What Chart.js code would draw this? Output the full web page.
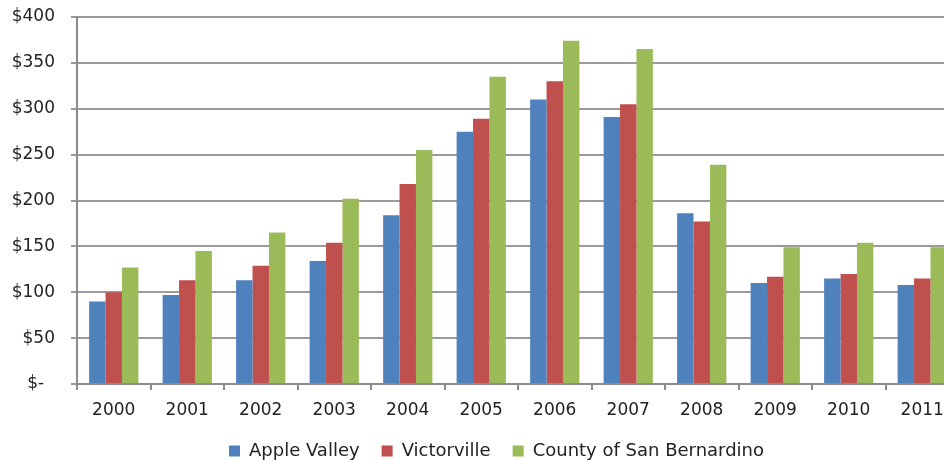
<!DOCTYPE html>
<html>
<head>
<meta charset="utf-8">
<script src="https://cdn.jsdelivr.net/npm/chart.js@4.4.1/dist/chart.umd.min.js"></script>
<style>
  html, body { margin: 0; padding: 0; background: #fff; overflow: hidden; }
  #wrap { width: 960px; height: 460px; }
</style>
</head>
<body>
<div id="wrap"><canvas id="priceChart"></canvas></div>
<script>
// median price data, $ thousands
const years = ['2000', '2001', '2002', '2003', '2004', '2005', '2006', '2007', '2008', '2009', '2010', '2011'];
const appleValley = [90, 97, 113, 134, 184, 275, 310, 291, 186, 110, 115, 108];
const victorville = [100, 113, 129, 154, 218, 289, 330, 305, 177, 117, 120, 115];
const sanBernardino = [127, 145, 165, 202, 255, 335, 374, 365, 239, 149, 154, 149];
const yTicks = [0, 50, 100, 150, 200, 250, 300, 350, 400];

const font = { family: '"DejaVu Sans", Verdana, sans-serif', size: 17 };
const legendFont = { family: '"DejaVu Sans", Verdana, sans-serif', size: 18 };

// nudge the legend a bit right and up, like the original sheet
// (only the top moves, the box keeps its bottom so nothing gets clipped)
const legendShift = {
  id: 'legendShift',
  afterLayout(chart) {
    const lg = chart.legend;
    if (!lg) return;
    lg.left += 17; lg.right += 17;
    lg.top -= 6;
  }
};

const ctx = document.getElementById('priceChart').getContext('2d');
new Chart(ctx, {
  type: 'bar',
  data: {
    labels: years,
    datasets: [
      { label: 'Apple Valley', data: appleValley, backgroundColor: '#4F81BD' },
      { label: 'Victorville', data: victorville, backgroundColor: '#C0504D' },
      { label: 'County of San Bernardino', data: sanBernardino, backgroundColor: '#9BBB59' }
    ]
  },
  options: {
    responsive: true,
    maintainAspectRatio: false,
    animation: false,
    layout: { padding: { top: 1, right: 1, left: 0, bottom: 0 } },
    datasets: {
      bar: { categoryPercentage: 0.67, barPercentage: 1.0, borderWidth: 0 }
    },
    scales: {
      x: {
        afterFit: scale => { scale.height = 42; },
        grid: { offset: true, drawOnChartArea: false, drawTicks: true, tickLength: 6, color: '#8c8c8c', lineWidth: 2 },
        border: { color: '#8c8c8c', width: 2 },
        ticks: { font: font, color: '#222', padding: 10 }
      },
      y: {
        min: 0,
        max: 400,
        afterBuildTicks: scale => { scale.ticks = yTicks.map(v => ({ value: v })); },
        afterFit: scale => { scale.width = 77; scale.paddingTop = 17; scale.paddingBottom = 0; },
        grid: { color: '#9a9a9a', lineWidth: 2, tickLength: 6 },
        border: { color: '#8c8c8c', width: 2 },
        ticks: {
          font: font,
          color: '#222',
          padding: 16,
          callback: v => v === 0 ? '$-  ' : '$' + v
        }
      }
    },
    plugins: {
      legend: {
        position: 'bottom',
        maxHeight: 34,
        labels: {
          font: legendFont,
          color: '#222',
          boxWidth: 11,
          boxHeight: 11,
          padding: 22
        }
      },
      tooltip: { enabled: false }
    }
  },
  plugins: [legendShift]
});
</script>
</body>
</html>
